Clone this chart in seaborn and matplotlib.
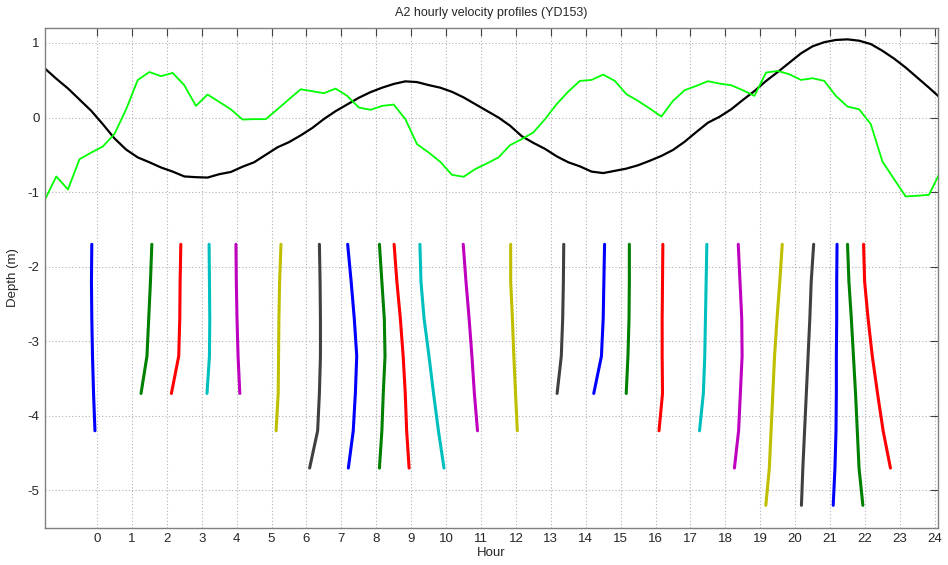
import numpy as np
import pandas as pd
import matplotlib
matplotlib.use("Agg")
import matplotlib.pyplot as plt
import seaborn as sns

# ---------------- data ----------------
# time axis of the surface series (hours, 20-minute steps)
t_start = -1.5
t_step = 1.0 / 3.0

black_series = [0.66, 0.52, 0.39, 0.24, 0.09, -0.09, -0.28, -0.43, -0.535, -0.60,
                -0.67, -0.725, -0.79, -0.80, -0.805, -0.76, -0.73, -0.66, -0.60, -0.50,
                -0.40, -0.33, -0.24, -0.14, -0.02, 0.085, 0.175, 0.265, 0.34, 0.40,
                0.45, 0.485, 0.475, 0.435, 0.40, 0.345, 0.27, 0.18, 0.09, 0.0,
                -0.11, -0.25, -0.34, -0.42, -0.52, -0.60, -0.655, -0.725, -0.745, -0.715,
                -0.685, -0.64, -0.58, -0.515, -0.435, -0.325, -0.195, -0.07, 0.01, 0.11,
                0.235, 0.355, 0.49, 0.61, 0.735, 0.86, 0.955, 1.01, 1.04, 1.048,
                1.03, 0.985, 0.895, 0.79, 0.67, 0.535, 0.40, 0.26]

green_series = [-1.107, -0.79, -0.964, -0.558, -0.47, -0.388, -0.22, 0.11, 0.504, 0.61,
                0.554, 0.598, 0.433, 0.156, 0.308, 0.21, 0.11, -0.027, -0.022, -0.022,
                0.11, 0.245, 0.379, 0.353, 0.326, 0.388, 0.29, 0.134, 0.103, 0.156,
                0.174, -0.022, -0.357, -0.469, -0.594, -0.768, -0.795, -0.692, -0.616, -0.536,
                -0.37, -0.29, -0.2, -0.022, 0.179, 0.348, 0.491, 0.504, 0.576, 0.491,
                0.3125, 0.223, 0.121, 0.013, 0.223, 0.366, 0.424, 0.487, 0.455, 0.433,
                0.366, 0.29, 0.603, 0.625, 0.58, 0.504, 0.527, 0.491, 0.29, 0.147,
                0.11, -0.089, -0.589, -0.826, -1.058, -1.049, -1.036, -0.72]

# depth bins of the hourly profiles (m)
depth_bins = [-1.7, -2.2, -2.7, -3.2, -3.7, -4.2, -4.7, -5.2]

# plotted x position (hour + velocity) of each hourly profile, top to bottom
profile_x = [
    [-0.15, -0.16, -0.15, -0.13, -0.10, -0.06],
    [1.57, 1.53, 1.48, 1.43, 1.26],
    [2.40, 2.38, 2.37, 2.34, 2.13],
    [3.21, 3.22, 3.23, 3.22, 3.15],
    [3.98, 3.99, 4.01, 4.04, 4.09],
    [5.27, 5.23, 5.21, 5.20, 5.19, 5.13],
    [6.37, 6.39, 6.40, 6.40, 6.37, 6.32, 6.09],
    [7.18, 7.28, 7.37, 7.44, 7.40, 7.34, 7.20],
    [8.09, 8.16, 8.23, 8.25, 8.20, 8.16, 8.09],
    [8.51, 8.59, 8.69, 8.77, 8.83, 8.87, 8.94],
    [9.25, 9.28, 9.37, 9.51, 9.64, 9.78, 9.94],
    [10.49, 10.57, 10.66, 10.74, 10.81, 10.90],
    [11.85, 11.85, 11.90, 11.94, 11.99, 12.04],
    [13.37, 13.36, 13.34, 13.30, 13.18],
    [14.54, 14.52, 14.50, 14.45, 14.23],
    [15.25, 15.25, 15.24, 15.21, 15.16],
    [16.21, 16.20, 16.19, 16.19, 16.20, 16.10],
    [17.47, 17.45, 17.43, 17.41, 17.37, 17.26],
    [18.37, 18.42, 18.47, 18.48, 18.43, 18.38, 18.26],
    [19.63, 19.56, 19.48, 19.41, 19.36, 19.31, 19.26, 19.16],
    [20.53, 20.46, 20.42, 20.37, 20.32, 20.27, 20.22, 20.18],
    [21.20, 21.19, 21.19, 21.18, 21.18, 21.17, 21.14, 21.09],
    [21.50, 21.54, 21.61, 21.67, 21.73, 21.78, 21.83, 21.94],
    [21.96, 21.99, 22.09, 22.21, 22.36, 22.52, 22.73],
]

x_ticks = list(range(0, 25))
y_ticks = [-5, -4, -3, -2, -1, 0, 1]
title = "A2 hourly velocity profiles (YD153)"
x_label = "Hour"
y_label = "Depth (m)"

# ---------------- style ----------------
sns.set_theme(style="white")
plt.rcParams["font.family"] = ["Liberation Sans", "DejaVu Sans"]
plt.rcParams["axes.unicode_minus"] = False

matlab_colors = [(0, 0, 1), (0, 0.5, 0), (1, 0, 0), (0, 0.75, 0.75),
                 (0.75, 0, 0.75), (0.75, 0.75, 0), (0.25, 0.25, 0.25)]

fig = plt.figure(figsize=(9.48, 5.65), dpi=100)
ax = fig.add_axes([0.0475, 0.066, 0.9415, 0.8844])

t = [t_start + i * t_step for i in range(len(black_series))]
surf = pd.DataFrame({"t": t, "black": black_series, "green": green_series})

sns.lineplot(data=surf, x="t", y="black", ax=ax, color="black", lw=1.6,
             sort=False, estimator=None)
sns.lineplot(data=surf, x="t", y="green", ax=ax, color=(0, 1, 0), lw=1.3,
             sort=False, estimator=None)

for i, xs in enumerate(profile_x):
    df = pd.DataFrame({"x": xs, "d": depth_bins[:len(xs)]})
    sns.lineplot(data=df, x="x", y="d", ax=ax, color=matlab_colors[i % 7],
                 lw=2.2, sort=False, estimator=None)

ax.set_xlim(-1.49, 24.08)
ax.set_ylim(-5.5, 1.2)
ax.set_xticks(x_ticks)
ax.set_yticks(y_ticks)
ax.grid(True, linestyle=(0, (1, 2)), color="#b0b0b0", lw=0.8)
ax.tick_params(direction="in", length=6, width=0.8, color="#404040",
               labelsize=9.5, top=True, right=True, labeltop=False,
               labelright=False, pad=4)
for s in ax.spines.values():
    s.set_color("#808080")
    s.set_linewidth(1.0)
ax.set_title(title, fontsize=9, pad=9)
ax.set_xlabel(x_label, fontsize=9.5, labelpad=1)
ax.set_ylabel(y_label, fontsize=9.5, labelpad=6)

fig.savefig("out.png", dpi=100)
